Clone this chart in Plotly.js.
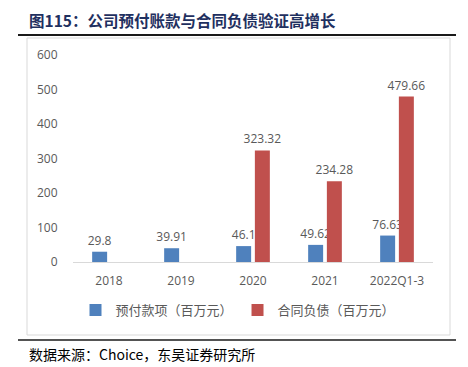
<!DOCTYPE html>
<html><head><meta charset="utf-8">
<script src="https://cdn.plot.ly/plotly-3.0.1.min.js"></script>
<style>html,body{margin:0;padding:0;background:#fff;}#chart{width:468px;height:367px;}</style>
</head><body><div id="chart"></div>
<script>
const categories = ["2018", "2019", "2020", "2021", "2022Q1-3"];
const prepayments = [29.8, 39.91, 46.1, 49.62, 76.63];
const contractLiabilities = [null, null, 323.32, 234.28, 479.66];
const seriesNames = ["预付款项（百万元）", "合同负债（百万元）"];
const yTicks = [0, 100, 200, 300, 400, 500, 600];

const labelFont = {family: "Open Sans, Noto Sans CJK SC, sans-serif", size: 12, color: "#595959"};
const traces = [
  {type: "bar", name: seriesNames[0], x: categories, y: prepayments,
   text: prepayments.map(v => v == null ? "" : String(v)), textposition: "outside", constraintext: "none",
   textfont: labelFont, cliponaxis: false, marker: {color: "#4F81BD"}, hoverinfo: "none"},
  {type: "bar", name: seriesNames[1], x: categories, y: contractLiabilities,
   text: contractLiabilities.map(v => v == null ? "" : String(v)), textposition: "outside", constraintext: "none",
   textfont: labelFont, cliponaxis: false, marker: {color: "#C0504D"}, hoverinfo: "none"}
];

const L = 73, R = 433, T = 55, B = 262;
const px = x => (x - L) / (R - L);
const py = y => (B - y) / (B - T);

const layout = {
  width: 468, height: 367,
  margin: {l: L, r: 468 - R, t: T, b: 367 - B},
  paper_bgcolor: "#fff", plot_bgcolor: "#fff",
  barmode: "group", bargap: 0.48, bargroupgap: 0.2,
  showlegend: true,
  legend: {orientation: "h", x: px(238), xanchor: "center", y: py(310), yanchor: "middle",
           font: {family: "Noto Sans CJK SC, sans-serif", size: 13, color: "#595959"},
           itemwidth: 30, traceorder: "normal"},
  xaxis: {type: "category", showgrid: false, showline: true, linecolor: "#d9d9d9", linewidth: 1,
          ticks: "outside", ticklen: 8, tickcolor: "rgba(0,0,0,0)",
          tickfont: {family: "Open Sans, sans-serif", size: 12, color: "#595959"}, fixedrange: true},
  yaxis: {range: [0, 600], tickvals: yTicks, showgrid: false, zeroline: false, showline: false,
          ticks: "outside", ticklen: 12, tickcolor: "rgba(0,0,0,0)",
          tickfont: {family: "Open Sans, sans-serif", size: 12, color: "#595959"}, fixedrange: true},
  shapes: [
    {type: "rect", xref: "paper", yref: "paper", x0: px(27), x1: px(450), y0: py(335), y1: py(38),
     line: {color: "#d9d9d9", width: 1}, layer: "below"},
    {type: "line", xref: "paper", yref: "paper", x0: px(18), x1: px(456), y0: py(35), y1: py(35),
     line: {color: "#1a1a1a", width: 2}},
    {type: "line", xref: "paper", yref: "paper", x0: px(18), x1: px(456), y0: py(340), y1: py(340),
     line: {color: "#1a1a1a", width: 1.5}}
  ],
  annotations: [
    {xref: "paper", yref: "paper", x: px(27), y: py(20), xanchor: "left", yanchor: "middle", showarrow: false,
     text: "<b>图115：公司预付账款与合同负债验证高增长</b>",
     font: {family: "Noto Sans CJK SC, sans-serif", size: 15.5, color: "#1f3060"}},
    {xref: "paper", yref: "paper", x: px(27), y: py(354), xanchor: "left", yanchor: "middle", showarrow: false,
     text: "数据来源：Choice，东吴证券研究所",
     font: {family: "Noto Sans CJK SC, sans-serif", size: 14, color: "#000"}}
  ]
};
Plotly.newPlot("chart", traces, layout, {staticPlot: true, displayModeBar: false});
</script></body></html>
